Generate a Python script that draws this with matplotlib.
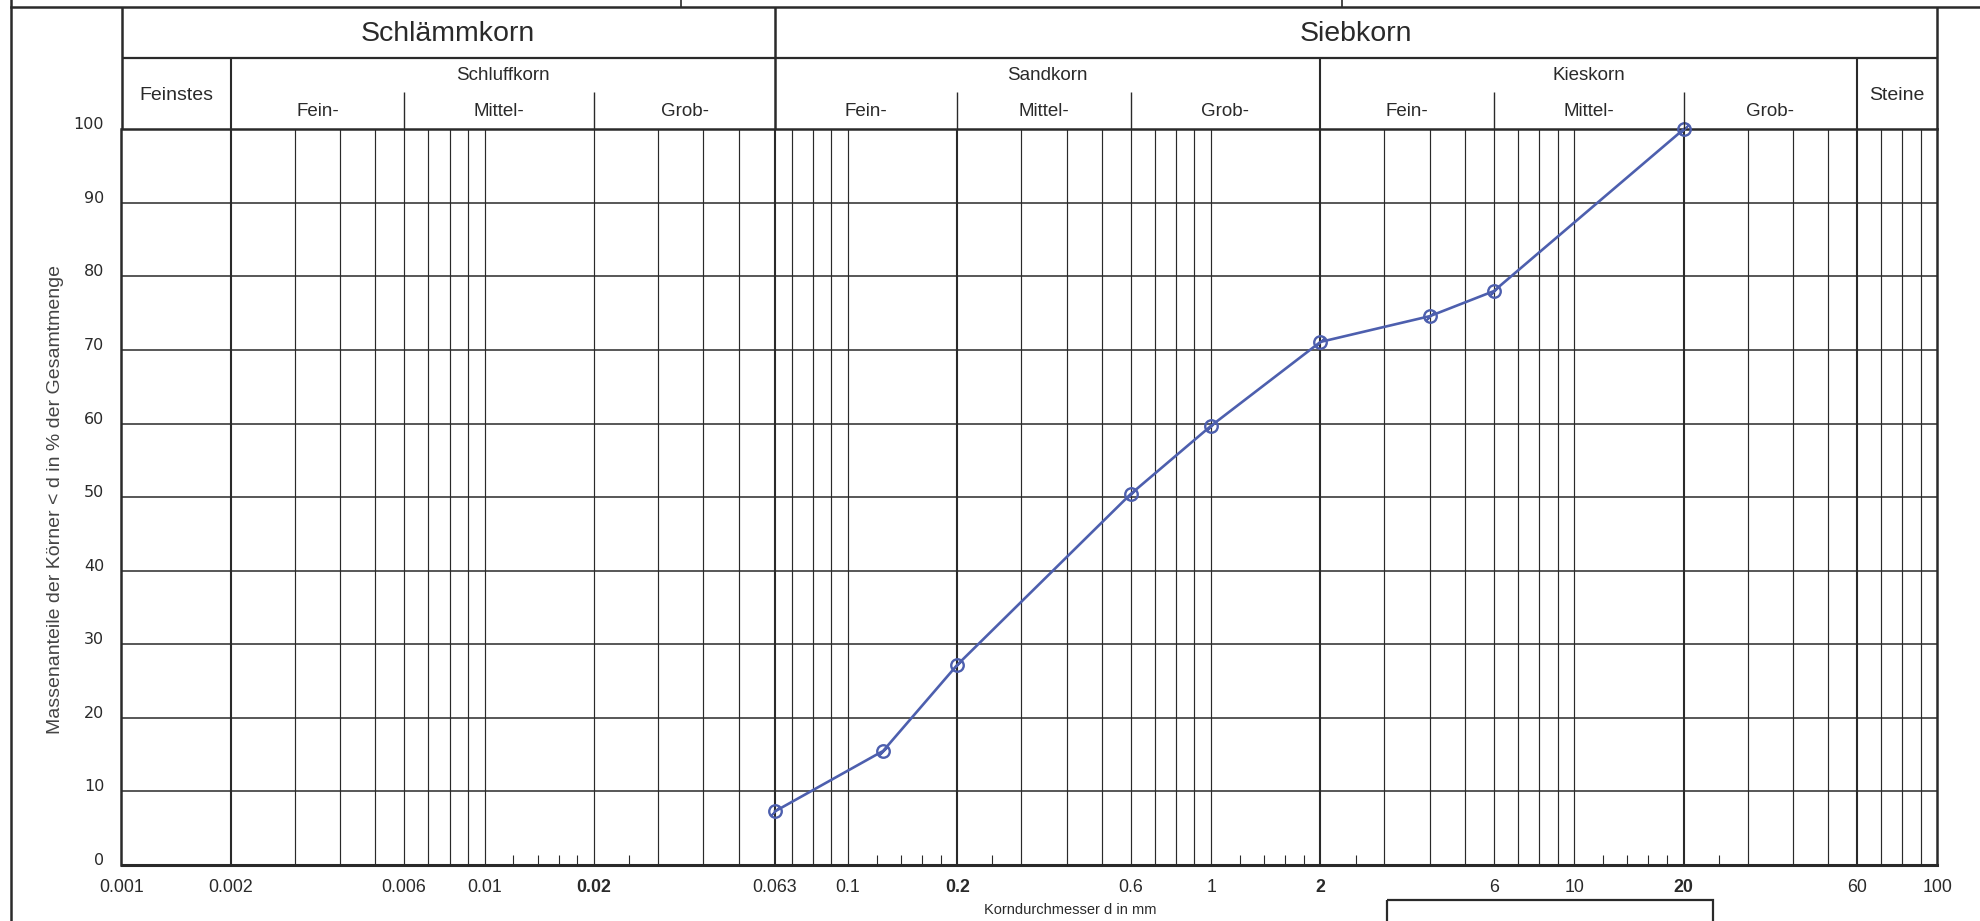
import matplotlib
matplotlib.use("Agg")
import matplotlib.pyplot as plt
from matplotlib.ticker import NullLocator
from matplotlib.transforms import ScaledTranslation
from matplotlib.patches import Rectangle

# Koernungslinie - sieve results
korn_d = [0.063, 0.125, 0.2, 0.6, 1.0, 2.0, 4.0, 6.0, 20.0]
durchgang = [7.3, 15.5, 27.2, 50.4, 59.7, 71.1, 74.6, 78.0, 100.0]

x_ticks = [0.001, 0.002, 0.006, 0.01, 0.02, 0.063, 0.1, 0.2, 0.6, 1, 2, 6, 10, 20, 60, 100]
x_labels = ["0.001", "0.002", "0.006", "0.01", "0.02", "0.063", "0.1", "0.2",
            "0.6", "1", "2", "6", "10", "20", "60", "100"]
bold_labels = ["0.02", "0.2", "2", "20"]
y_ticks = [0, 10, 20, 30, 40, 50, 60, 70, 80, 90, 100]

# printed grid of the form
grid_full = [0.002, 0.003, 0.004, 0.005, 0.006, 0.007, 0.008, 0.009, 0.01,
             0.02, 0.03, 0.04, 0.05, 0.063, 0.07, 0.08, 0.09, 0.1,
             0.2, 0.3, 0.4, 0.5, 0.6, 0.7, 0.8, 0.9, 1,
             2, 3, 4, 5, 6, 7, 8, 9, 10,
             20, 30, 40, 50, 60, 70, 80, 90]
grid_heavy = [0.002, 0.063, 0.2, 2, 20, 60]
grid_short = [0.012, 0.014, 0.016, 0.018, 0.025,
              0.12, 0.14, 0.16, 0.18, 0.25,
              1.2, 1.4, 1.6, 1.8, 2.5,
              12, 14, 16, 18, 25]

# header table
haupt = [("Schlämmkorn", 0.001, 0.063), ("Siebkorn", 0.063, 100)]
gruppen = [("Schluffkorn", 0.002, 0.063), ("Sandkorn", 0.063, 2), ("Kieskorn", 2, 60)]
einzeln = [("Feinstes", 0.001, 0.002), ("Steine", 60, 100)]
stufen = [("Fein-", 0.002, 0.006), ("Mittel-", 0.006, 0.02), ("Grob-", 0.02, 0.063),
          ("Fein-", 0.063, 0.2), ("Mittel-", 0.2, 0.6), ("Grob-", 0.6, 2),
          ("Fein-", 2, 6), ("Mittel-", 6, 20), ("Grob-", 20, 60)]
gruppen_grenzen = [0.002, 2, 60]
stufen_grenzen = [0.006, 0.02, 0.2, 0.6, 6, 20]

W, H = 1981, 921
L, R = 121.5, 1937.5
Y0, Y100, YTOP, YROW = 865, 129.3, 7, 57.7
ink = "#2a2a2a"
blue = "#4d5fae"
font = "Liberation Sans"

fig = plt.figure(figsize=(W / 100, H / 100), dpi=100)

ax = fig.add_axes([L / W, 1 - Y0 / H, (R - L) / W, (Y0 - Y100) / H])
ax.set_xscale("log")
ax.set_xlim(0.001, 100)
ax.set_ylim(0, 100)
ax.xaxis.set_minor_locator(NullLocator())
for s in ax.spines.values():
    s.set_color(ink)
    s.set_linewidth(1.8)
ax.spines["bottom"].set_linewidth(2.2)

for y in y_ticks[1:-1]:
    ax.axhline(y, color=ink, lw=1.1, zorder=1)
for v in grid_full:
    ax.axvline(v, color=ink, lw=1.5 if v in grid_heavy else 0.85, zorder=1)
ax.vlines(grid_short, 0, 1.4, color=ink, lw=0.8, zorder=1)

ax.plot(korn_d, durchgang, color=blue, lw=1.9, zorder=5, clip_on=False)
ax.plot(korn_d, durchgang, ls="none", marker="o", ms=9, mfc="none", mec=blue,
        mew=1.7, zorder=6, clip_on=False)
ax.plot(korn_d, durchgang, ls="none", marker=(2, 2, -45), ms=9, mec=blue,
        mew=1.4, zorder=6, clip_on=False)

ax.set_xticks(x_ticks, x_labels)
ax.set_yticks(y_ticks)
ax.tick_params(axis="x", length=0, pad=10, labelsize=12.8, labelcolor=ink)
ax.tick_params(axis="y", length=0, pad=12.5, labelsize=11.5, labelcolor=ink)
for lab in ax.get_xticklabels():
    lab.set_fontfamily(font)
    if lab.get_text() in bold_labels:
        lab.set_fontweight("bold")
for lab in ax.get_yticklabels():
    lab.set_fontfamily("DejaVu Sans")
    lab.set_transform(lab.get_transform() + ScaledTranslation(0, 0.06, fig.dpi_scale_trans))

# header
hdr = fig.add_axes([L / W, 1 - Y100 / H, (R - L) / W, (Y100 - YTOP) / H])
hdr.set_xscale("log")
hdr.set_xlim(0.001, 100)
hdr.set_ylim(Y100, YTOP)
hdr.axis("off")
hdr.hlines(YROW, 0.001, 100, color=ink, lw=1.6, clip_on=False)
hdr.vlines([0.001, 0.063, 100], YTOP, Y100, color=ink, lw=1.8, clip_on=False)
hdr.vlines(gruppen_grenzen, YROW, Y100, color=ink, lw=1.5, clip_on=False)
hdr.vlines(stufen_grenzen, 92, Y100, color=ink, lw=1.0, clip_on=False)


def mitte(a, b):
    return (a * b) ** 0.5


for t, a, b in haupt:
    hdr.text(mitte(a, b), 34, t, ha="center", va="center", fontsize=20.5,
             family=font, color=ink)
for t, a, b in gruppen:
    hdr.text(mitte(a, b), 76, t, ha="center", va="center", fontsize=13.5,
             family=font, color=ink)
for t, a, b in einzeln:
    hdr.text(mitte(a, b), 95, t, ha="center", va="center", fontsize=14,
             family=font, color=ink)
for t, a, b in stufen:
    hdr.text(mitte(a, b), 111, t, ha="center", va="center", fontsize=13.5,
             family=font, color=ink)

# frame of the scanned sheet
ov = fig.add_axes([0, 0, 1, 1], zorder=-1)
ov.set_xlim(0, W)
ov.set_ylim(H, 0)
ov.axis("off")
ov.plot([11, W], [YTOP, YTOP], color=ink, lw=1.8)
ov.plot([11, 11], [0, H], color=ink, lw=1.8)
ov.plot([681, 681], [0, YTOP], color=ink, lw=1.2)
ov.plot([1342, 1342], [0, YTOP], color=ink, lw=1.2)
ov.add_patch(Rectangle((1387, 900), 1713 - 1387, 40, fill=False, ec=ink, lw=1.6))
ov.text(1070, 903, "Korndurchmesser d in mm", ha="center", va="top",
        fontsize=10.5, family=font, color=ink)
ov.text(56, 499, "Massenanteile der Körner < d in % der Gesamtmenge", rotation=90,
        ha="center", va="center", fontsize=14, family=font, color="#444444")

fig.savefig("out.png", dpi=100)
